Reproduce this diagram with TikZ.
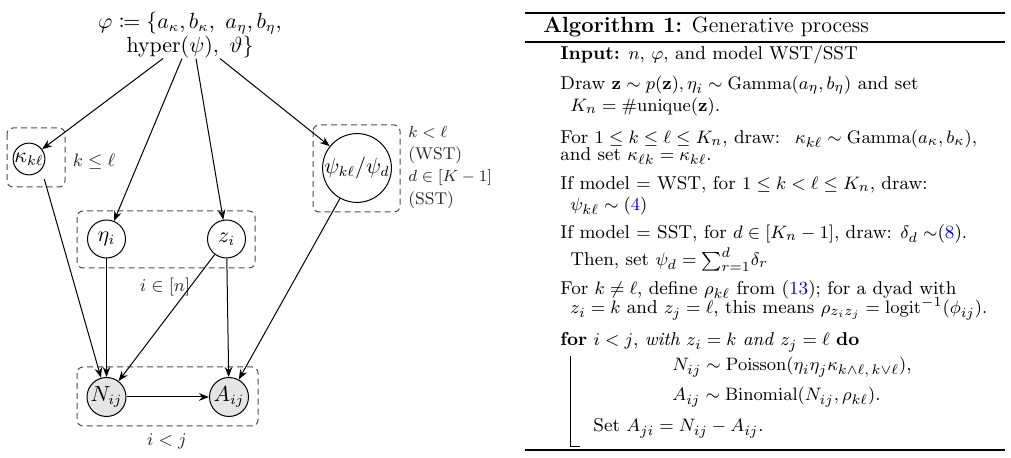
\documentclass[tikz,border=0pt]{standalone}
\usepackage{amsmath,amssymb,mathtools}
\usetikzlibrary{arrows.meta}
\newcommand\bodyfs{\fontsize{9.3}{11}\selectfont}
\newcommand\headfs{\fontsize{11}{13}\selectfont}
\newcommand\diagfs{\fontsize{10.5}{11}\selectfont}
\newcommand\labfs{\fontsize{9.3}{11}\selectfont}
\newcommand\smlabfs{\fontsize{8.5}{10}\selectfont}
\tikzset{
  rv/.style={circle, draw, line width=0.5pt, inner sep=0pt, font=\diagfs},
  obs/.style={rv, fill=black!10},
  plate/.style={draw=black!70, dash pattern=on 3pt off 2pt, rounded corners=3pt, line width=0.5pt},
  arr/.style={-{Stealth[length=5pt,width=3.8pt]}, line width=0.5pt},
  lab/.style={font=\labfs, inner sep=0pt, text=black!85},
  plab/.style={font=\smlabfs, inner sep=0pt, text=black!85, anchor=base west},
  algline/.style={anchor=base west, inner sep=0pt, font=\bodyfs},
  rule/.style={line width=0.6pt},
}
\begin{document}
\begin{tikzpicture}[x=0.5pt,y=-0.5pt]
\useasboundingbox (0,0) rectangle (1011,458);
% ---------- graphical model ----------
\node[align=center, inner sep=0pt, font=\diagfs] (phi) at (190,35)
  {$\varphi \coloneqq \{a_\kappa, b_\kappa,\ a_\eta, b_\eta,$\\$\mathrm{hyper}(\psi),\ \vartheta\}$};

\node[rv, minimum size=13.5pt] (kappa) at (29,159) {$\kappa_{k\ell}$};
\node[rv, minimum size=32.5pt] (psi) at (357,168) {$\psi_{k\ell}/\psi_d$};
\node[rv, minimum size=19pt] (eta) at (106.5,239) {$\eta_i$};
\node[rv, minimum size=19pt] (z) at (226.5,239) {$z_i$};
\node[obs, minimum size=19.5pt] (N) at (106.5,397) {$N_{ij}$};
\node[obs, minimum size=19.5pt] (A) at (229,397) {$A_{ij}$};

\draw[plate] (7,128) rectangle (65,187);
\draw[plate] (313,125) rectangle (400,212);
\draw[plate] (77,211) rectangle (255,268);
\draw[plate] (77,367) rectangle (258,426);

\node[lab] (lkl) at (94,162) {$k \le \ell$};
\node[lab] (lin) at (165,287) {$i \in [n]$};
\node[lab] (lij) at (167,441) {$i < j$};
\node[plab] (lp1) at (408,138) {$k < \ell$};
\node[plab] (lp2) at (408,160) {(WST)};
\node[plab] (lp3) at (408,182) {$d \in [K-1]$};
\node[plab] (lp4) at (408,205) {(SST)};

\draw[arr] ([xshift=-13.5pt]phi.south) -- (kappa);
\draw[arr] ([xshift=-4pt]phi.south) -- (eta);
\draw[arr] ([xshift=3pt]phi.south) -- (z);
\draw[arr] ([xshift=15pt]phi.south) -- (psi);
\draw[arr, shorten <=5pt] (kappa.-40) -- (N);
\draw[arr] (eta) -- (N);
\draw[arr] (z) -- (N);
\draw[arr] (z) -- (A);
\draw[arr] (psi) -- (A);
\draw[arr] (N) -- (A);

% ---------- algorithm ----------
\draw[line width=1pt] (525,13) -- (1005,13);
\draw[rule] (525,42) -- (1005,42);
\draw[line width=1pt] (525,450) -- (1005,450);
\node[anchor=base west, inner sep=0pt, font=\headfs] (head) at (543,33)
  {\textbf{Algorithm 1:} Generative process};
\node[algline] (l1) at (560,60) {\textbf{Input:} $n$, $\varphi$, and model WST/SST};
\node[algline] (l2) at (560,90) {Draw $\mathbf{z}\sim p(\mathbf{z}), \eta_i \sim \mathrm{Gamma}(a_\eta,b_\eta)$ and set};
\node[algline] (l3) at (570,112) {$K_n = \#\mathrm{unique}(\mathbf{z})$.};
\node[algline] (l4) at (560,144) {For $1\le k\le \ell \le K_n$, draw: \ $\kappa_{k\ell}\sim\mathrm{Gamma}(a_\kappa,b_\kappa)$,};
\node[algline] (l5) at (560,161) {and set $\kappa_{\ell k} = \kappa_{k\ell}$.};
\node[algline] (l6) at (560,190) {If model $=$ WST, for $1\le k<\ell\le K_n$, draw:};
\node[algline] (l7) at (570,211) {$\psi_{k\ell}\sim(\textcolor{blue}{4})$};
\node[algline] (l8) at (560,239) {If model $=$ SST, for $d\in[K_n-1]$, draw: $\delta_d \sim$(\textcolor{blue}{8}).};
\node[algline] (l9) at (570,266) {Then, set $\psi_d = \smash{\sum_{r=1}^d} \delta_r$};
\node[algline] (l10) at (560,295) {For $k\neq\ell$, define $\rho_{k\ell}$ from (\textcolor{blue}{13}); for a dyad with};
\node[algline] (l11) at (570,314) {$z_i = k$ and $z_j=\ell$, this means $\rho_{z_i z_j} = \smash{\mathrm{logit}^{-1}}(\phi_{ij})$.};
\node[algline] (l12) at (560,346) {\textbf{for} $i<j$, \emph{with} $z_i = k$ \emph{and} $z_j=\ell$ \textbf{do}};
\node[algline] (l13) at (672,371) {$N_{ij}\sim \mathrm{Poisson}(\eta_i\eta_j\kappa_{k\wedge\ell,\,k\vee\ell})$,};
\node[algline] (l14) at (672,401) {$A_{ij}\sim\mathrm{Binomial}(N_{ij},\rho_{k\ell})$.};
\node[algline] (l15) at (593,432) {Set $A_{ji} = N_{ij} - A_{ij}$.};
\coordinate (bartop) at (570,356);
\coordinate (barbot) at (570,447);
\coordinate (barend) at (580,447);
\draw[line width=0.5pt] (bartop) -- (barbot) -- (barend);
\end{tikzpicture}
\end{document}
